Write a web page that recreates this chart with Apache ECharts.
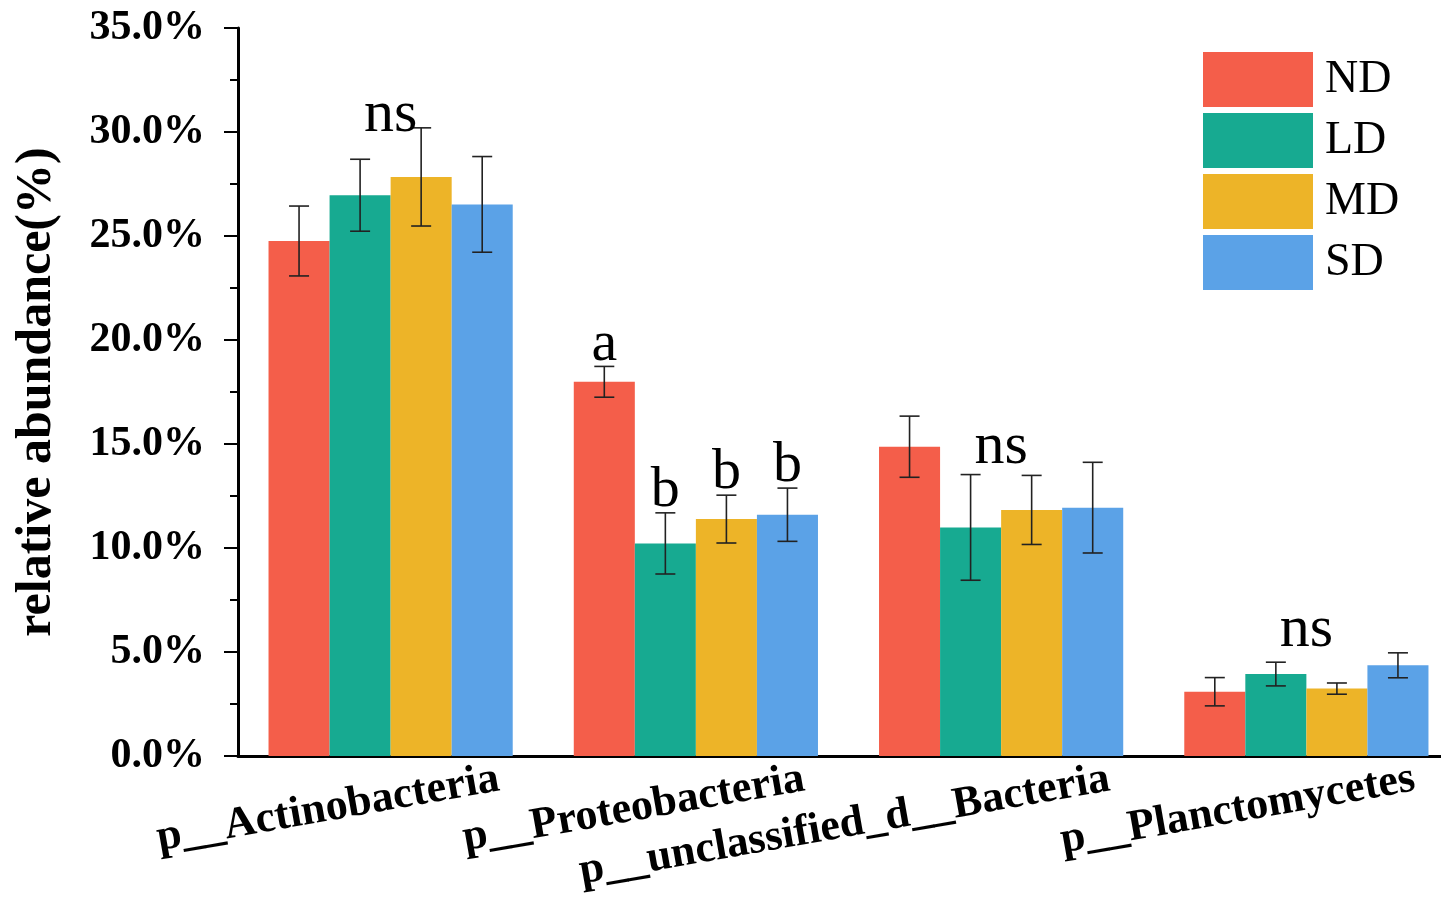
<!DOCTYPE html>
<html>
<head>
<meta charset="utf-8">
<script src="https://cdn.jsdelivr.net/npm/echarts@6/dist/echarts.min.js"></script>
<style>
  html, body { margin: 0; padding: 0; background: #fff; }
  #chart { width: 1441px; height: 908px; }
</style>
</head>
<body>
<div id="chart"></div>
<script>
  // categories and groups
  var categories = ['p__Actinobacteria', 'p__Proteobacteria', 'p__unclassified_d__Bacteria', 'p__Planctomycetes'];
  var groups = ['ND', 'LD', 'MD', 'SD'];

  // mean relative abundance (%) and error (+/-)
  var ndMean = [24.76, 17.99, 14.87, 3.09];
  var ldMean = [26.96, 10.22, 10.99, 3.94];
  var mdMean = [27.84, 11.39, 11.83, 3.24];
  var sdMean = [26.52, 11.60, 11.94, 4.36];
  var ndErr = [1.68, 0.74, 1.47, 0.68];
  var ldErr = [1.73, 1.47, 2.54, 0.57];
  var mdErr = [2.36, 1.15, 1.66, 0.27];
  var sdErr = [2.30, 1.28, 2.18, 0.60];

  // significance letters per bar
  var ndSig = ['', 'a', '', ''];
  var ldSig = ['', 'b', '', ''];
  var mdSig = ['', 'b', '', ''];
  var sdSig = ['', 'b', '', ''];

  // "ns" annotations: category index and the value they stand on
  var nsCats = [0, 2, 3];
  var nsAt = [29.95, 13.99, 5.19];

  var yTicks = [0, 5, 10, 15, 20, 25, 30, 35];

  var colors = ['#F45E4A', '#17AA91', '#EDB428', '#5BA2E7'];
  var means = [ndMean, ldMean, mdMean, sdMean];
  var errs = [ndErr, ldErr, mdErr, sdErr];
  var sigs = [ndSig, ldSig, mdSig, sdSig];

  var serif = 'Liberation Serif';

  var chartDom = document.getElementById('chart');
  var myChart = echarts.init(chartDom);

  function errRender(k) {
    return function (params, api) {
      var ci = api.value(0);
      var m = api.value(1);
      var e = api.value(2);
      var band = api.size([1, 0])[0];
      var bw = band * 0.2;
      var off = (k - 1.5) * bw;
      var top = api.coord([ci, m + e]);
      var bot = api.coord([ci, m - e]);
      var x = top[0] + off;
      var cap = 10;
      var st = {stroke: '#222', lineWidth: 1.6};
      var children = [
        {type: 'line', shape: {x1: x, y1: top[1], x2: x, y2: bot[1]}, style: st},
        {type: 'line', shape: {x1: x - cap, y1: top[1], x2: x + cap, y2: top[1]}, style: st},
        {type: 'line', shape: {x1: x - cap, y1: bot[1], x2: x + cap, y2: bot[1]}, style: st}
      ];
      var txt = sigs[k][ci];
      if (txt) {
        children.push({
          type: 'text',
          style: {
            x: x, y: top[1] + 7, text: txt,
            fontFamily: serif, fontSize: 58, fill: '#000',
            align: 'center', verticalAlign: 'bottom'
          }
        });
      }
      return {type: 'group', children: children};
    };
  }

  var series = [];
  groups.forEach(function (g, k) {
    series.push({
      name: g,
      type: 'bar',
      barWidth: '20%',
      barGap: '0%',
      itemStyle: {color: colors[k]},
      data: means[k]
    });
  });
  groups.forEach(function (g, k) {
    series.push({
      type: 'custom',
      silent: true,
      z: 5,
      renderItem: errRender(k),
      data: means[k].map(function (v, i) { return [i, v, errs[k][i]]; })
    });
  });
  series.push({
    type: 'custom',
    silent: true,
    z: 6,
    renderItem: function (params, api) {
      var p = api.coord([api.value(0), api.value(1)]);
      return {
        type: 'text',
        style: {
          x: p[0], y: p[1] + 12, text: 'ns',
          fontFamily: serif, fontSize: 60, fill: '#000',
          align: 'center', verticalAlign: 'bottom'
        }
      };
    },
    data: nsCats.map(function (c, i) { return [c, nsAt[i]]; })
  });

  var option = {
    animation: false,
    color: colors,
    textStyle: {fontFamily: serif},
    grid: {left: 238, top: 28, height: 728, right: -18, outerBoundsMode: 'none'},
    legend: {
      data: groups,
      orient: 'vertical',
      left: 1203,
      top: 52,
      padding: 0,
      itemWidth: 110,
      itemHeight: 55,
      itemGap: 6,
      icon: 'rect',
      textStyle: {fontFamily: serif, fontSize: 46, color: '#000', padding: [0, 0, 0, 7]}
    },
    xAxis: [{
      type: 'category',
      data: categories,
      axisLine: {lineStyle: {color: '#000', width: 3}},
      axisTick: {alignWithLabel: false, length: 9, lineStyle: {color: '#000', width: 2}},
      axisLabel: {
        interval: 0,
        rotate: 10,
        align: 'right',
        margin: 42,
        padding: [0, -110, 0, 0],
        color: '#000',
        fontFamily: serif,
        fontSize: 44,
        fontWeight: 'bold'
      }
    }, {
      type: 'category',
      data: categories,
      position: 'bottom',
      axisLine: {show: false},
      axisTick: {alignWithLabel: true, length: 18, lineStyle: {color: '#000', width: 2}},
      axisLabel: {show: false}
    }],
    yAxis: {
      type: 'value',
      min: yTicks[0],
      max: yTicks[yTicks.length - 1],
      interval: 5,
      name: 'relative abundance(%)',
      nameLocation: 'middle',
      nameRotate: 90,
      nameGap: 176,
      nameTextStyle: {fontFamily: serif, fontSize: 50, fontWeight: 'bold', color: '#000'},
      splitLine: {show: false},
      axisLine: {show: true, lineStyle: {color: '#000', width: 3}},
      axisTick: {show: true, length: 14, lineStyle: {color: '#000', width: 2}},
      minorTick: {show: true, splitNumber: 2, length: 8, lineStyle: {color: '#000', width: 2}},
      axisLabel: {
        margin: 33,
        color: '#000',
        fontFamily: serif,
        fontSize: 42,
        fontWeight: 'bold',
        formatter: function (v) { return v.toFixed(1) + '%'; }
      }
    },
    series: series
  };

  option && myChart.setOption(option);
</script>
</body>
</html>
